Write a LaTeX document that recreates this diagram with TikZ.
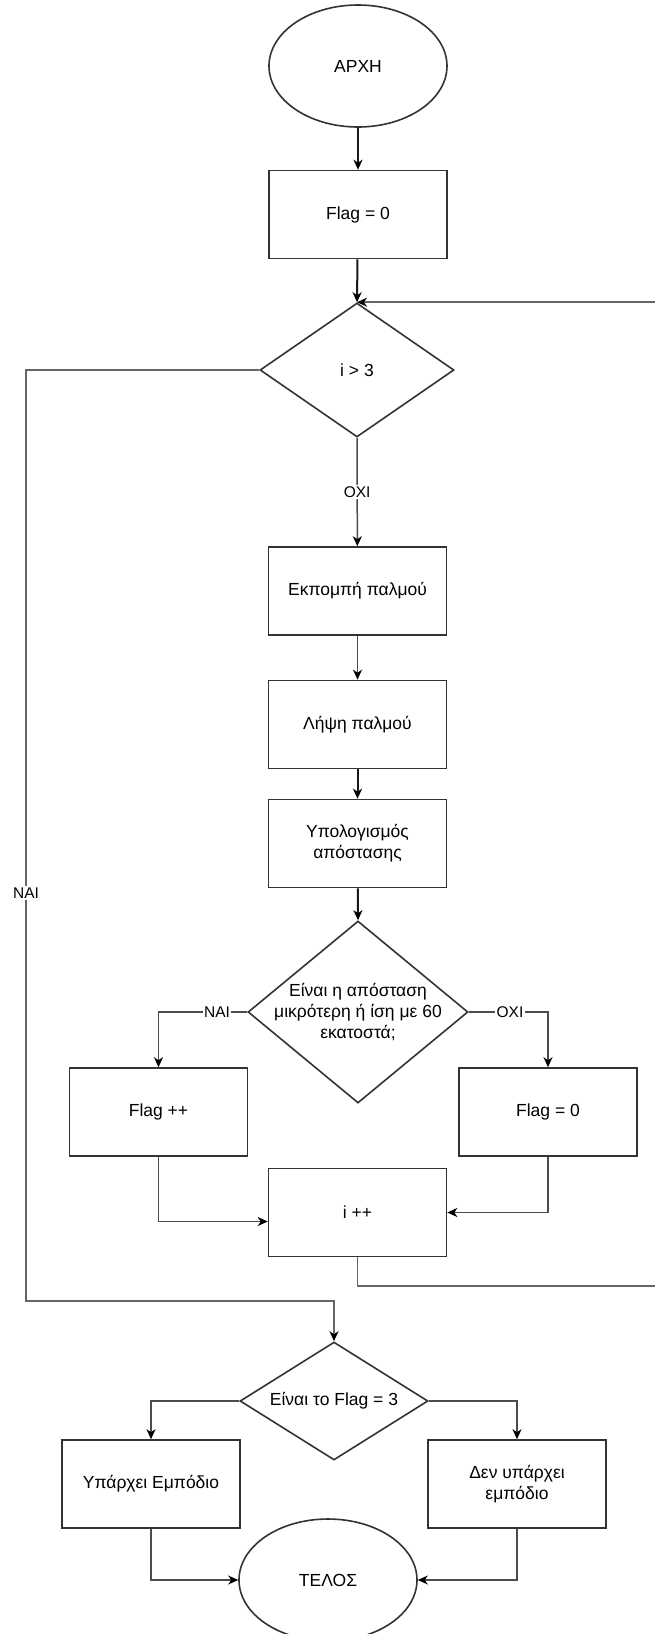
\documentclass[tikz,border=0pt]{standalone}
\usepackage{fontspec}
\setmainfont{Liberation Sans}
\usetikzlibrary{shapes.geometric,arrows.meta}
\begin{document}
\begin{tikzpicture}[x=1pt,y=-1pt,
  every node/.style={font=\fontsize{17.5}{21}\selectfont},
  box/.style={draw=black!80,line width=1.6pt,rectangle,minimum width=178pt,minimum height=88pt,align=center},
  term/.style={draw=black!80,line width=1.6pt,ellipse,minimum width=178pt,minimum height=122pt},
  decision/.style={draw=black!80,line width=1.6pt,diamond,inner sep=0pt},
  flow/.style={draw=black!70,line width=1.5pt,-{Stealth[length=10pt,width=9pt,inset=3pt,color=black]}},
  strong/.style={draw=black!90,line width=2pt},
  tag/.style={fill=white,inner sep=1.5pt,font=\fontsize{15.5}{18}\selectfont}
]
% page
\fill[white] (0,0) rectangle (654,1634);
\useasboundingbox (0,0) rectangle (654,1634);

% main column
\node[term] (start) at (358,66) {ΑΡΧΗ};
\node[box] (flag0) at (358,214.5) {Flag = 0};
\node[decision,minimum width=194pt,minimum height=134pt,label=center:{i > 3}] (loop) at (357,370) {};
\node[box] (emit) at (357.5,591) {Εκπομπή παλμού};
\node[box] (recv) at (357.5,724.5) {Λήψη παλμού};
\node[box] (dist) at (357.5,843.5) {Υπολογισμός\\απόστασης};
\node[decision,minimum width=220pt,minimum height=182pt,
      label={[align=center]center:{Είναι η απόσταση\\μικρότερη ή ίση με 60\\εκατοστά;}}] (near) at (358,1012) {};
\node[box] (inc) at (158.5,1112) {Flag ++};
\node[box] (reset) at (548,1112) {Flag = 0};
\node[box] (step) at (357.5,1212.5) {i ++};

% final decision
\node[decision,minimum width=188pt,minimum height=118pt,label=center:{Είναι το Flag = 3}] (check) at (334,1401) {};
\node[box] (yes) at (151,1484) {Υπάρχει Εμπόδιο};
\node[box] (no) at (517,1484) {Δεν υπάρχει\\εμπόδιο};
\node[term] (end) at (328,1580) {ΤΕΛΟΣ};

% turning points of the long connectors
\coordinate (loopdown) at (357.5,1286);
\coordinate (loopright) at (656,1286);
\coordinate (exitcorner) at (26,1301);

% connectors
\draw[flow,strong] (start) -- (flag0);
\draw[flow,strong] (flag0) -- (loop.north);
\draw[flow] (loop.south) -- node[tag] {ΟΧΙ} (emit);
\draw[flow] (emit) -- (recv);
\draw[flow,strong] (recv) -- (dist);
\draw[flow,strong] (dist) -- (near.north);
\draw[flow] (near.west) -| node[tag,pos=0.17] {ΝΑΙ} (inc.north);
\draw[flow] (near.east) -| node[tag,pos=0.26] {ΟΧΙ} (reset.north);
\draw[flow] (inc.south) |- ([yshift=-9pt]step.west);
\draw[flow] (reset.south) |- (step.east);
\draw[flow,draw=black!60] (step.south) -- (loopdown) -- (loopright) |- (loop.north);
\draw[flow,draw=black!60] (loop.west) -| node[tag,pos=0.781] {ΝΑΙ} (exitcorner) -| (check.north);
\draw[flow] (check.west) -| (yes.north);
\draw[flow] (check.east) -| (no.north);
\draw[flow] (yes.south) |- (end.west);
\draw[flow] (no.south) |- (end.east);
\end{tikzpicture}
\end{document}
